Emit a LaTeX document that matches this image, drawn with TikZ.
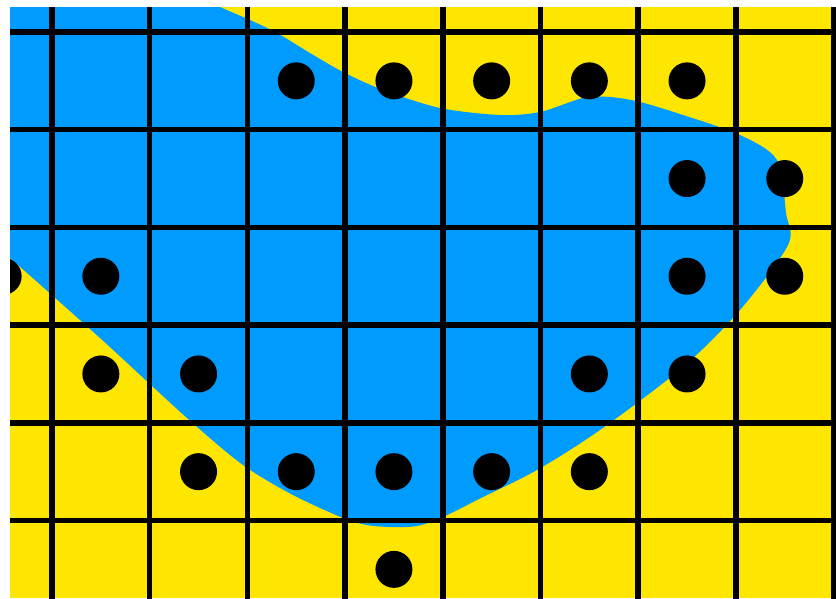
\documentclass[tikz,border=0pt]{standalone}
\usepackage{tikz}
\usetikzlibrary{calc}

\definecolor{fieldyellow}{RGB}{255,230,0}
\definecolor{blobblue}{RGB}{0,155,255}

\begin{document}
\begin{tikzpicture}[
    x=1pt, y=-1pt,
    gridline/.style={draw=black, line width=5.5pt},
    sdot/.style={circle, fill=black, minimum size=37pt, inner sep=0pt},
]
\useasboundingbox (0,0) rectangle (836,598);
\fill[white] (0,0) rectangle (836,598);

\def\s{97.7}
\coordinate (O) at (52,32);

\begin{scope}
\clip (10,7) rectangle (836,598);
\fill[fieldyellow] (10,7) rectangle (836,598);

% ---- blue region ----
\fill[blobblue] (-10,-10) -- (200,-10) -- plot[smooth, tension=0.5] coordinates {
    (200,-3) (220,7) (250,20) (277,33) (310,53) (343,72) (383,90) (440,108)
    (500,115) (540,112) (583,98) (610,97) (640,102) (683,115) (740,135)
    (777,160) (786,213) (788,245) (740,310) (683,367) (600,430) (537,470)
    (483,497) (443,517) (417,526) (390,527) (367,525) (343,518) (293,495)
    (243,465) (187,418) (100,338) (10,258) (-10,242)
} -- cycle;

% ---- grid ----
\foreach \k in {0,...,8} {
    \draw[gridline] ($(O)+(\k*\s,-40)$) -- ($(O)+(\k*\s,600)$);
}
\foreach \k in {0,...,5} {
    \draw[gridline] ($(O)+(-60,\k*\s)$) -- ($(O)+(820,\k*\s)$);
}

% ---- sample points (column, row) ----
\foreach \c/\r in {3/1,4/1,5/1,6/1,7/1, 7/2,8/2, 0/3,1/3,7/3,8/3,
                   1/4,2/4,6/4,7/4, 2/5,3/5,4/5,5/5,6/5, 4/6} {
    \node[sdot] (p\c-\r) at ($(O)+({(\c-0.5)*\s},{(\r-0.5)*\s})$) {};
}
\end{scope}
\end{tikzpicture}
\end{document}
